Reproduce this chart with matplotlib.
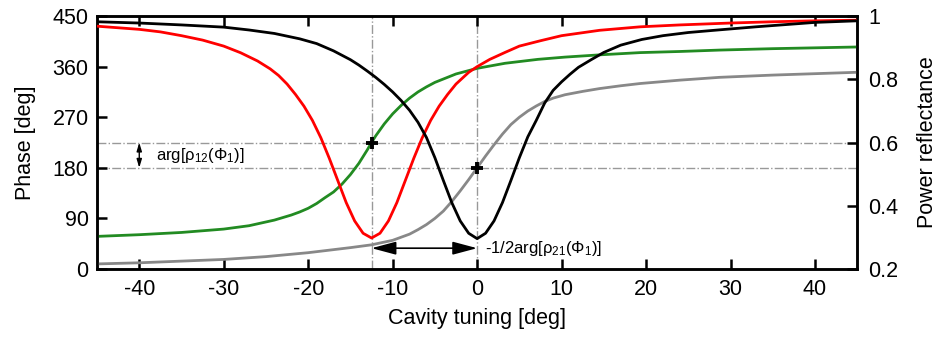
import numpy as np
import matplotlib.pyplot as plt

plt.rcParams['font.family'] = ['Liberation Sans', 'DejaVu Sans']
plt.rcParams['mathtext.fontset'] = 'custom'
plt.rcParams['mathtext.rm'] = 'Liberation Sans'
plt.rcParams['mathtext.it'] = 'Liberation Sans'
plt.rcParams['axes.unicode_minus'] = False

# values
# power reflectance, red dip (right axis)
red_x = [-45, -42.5, -40, -37.5, -35, -32.5, -30, -28, -26, -24.5, -23.5, -22.5, -21.5,
         -20.5, -19.5, -18.5, -17.5, -16.5, -15.5, -14.5, -13.5, -12.5, -11.5, -10.5,
         -9.5, -8.5, -7.5, -6.5, -5.5, -4.5, -3.5, -2.5, -1, 0, 1.5, 3.3, 5, 7.5, 10,
         14.5, 19.3, 24, 30, 35, 40, 45]
red_r = [0.968, 0.963, 0.958, 0.950, 0.938, 0.924, 0.905, 0.884, 0.858, 0.833, 0.812,
         0.785, 0.752, 0.715, 0.670, 0.615, 0.550, 0.480, 0.410, 0.352, 0.313, 0.298,
         0.313, 0.352, 0.410, 0.480, 0.550, 0.615, 0.670, 0.715, 0.752, 0.785, 0.822,
         0.840, 0.863, 0.885, 0.905, 0.922, 0.938, 0.955, 0.966, 0.972, 0.978, 0.982,
         0.985, 0.987]

# power reflectance, black dip (right axis)
blk_x = [-45, -40, -35, -30, -27, -24, -21, -19, -17, -15, -14, -13, -12, -11, -10, -9,
         -8, -7, -6, -5, -4, -3, -2, -1, 0, 1, 2, 3, 4, 5, 6, 7, 8, 9, 10, 11, 12, 13.5,
         15, 17, 19.5, 22, 25, 28.5, 33, 40, 45]
blk_r = [0.982, 0.978, 0.972, 0.965, 0.956, 0.945, 0.928, 0.913, 0.890, 0.862, 0.845,
         0.826, 0.806, 0.784, 0.760, 0.733, 0.702, 0.664, 0.616, 0.552, 0.480, 0.410,
         0.352, 0.313, 0.296, 0.313, 0.352, 0.410, 0.480, 0.552, 0.618, 0.670, 0.725,
         0.765, 0.792, 0.816, 0.838, 0.862, 0.885, 0.908, 0.926, 0.938, 0.948, 0.956,
         0.966, 0.980, 0.985]

# phase, green (left axis)
grn_x = [-45, -40, -35, -30, -27, -24, -22, -21, -20, -19, -18, -17, -16, -15, -14, -13,
         -12.5, -12, -11, -10, -9, -8, -7, -6, -5, -4, -2.5, 0, 3.3, 7.2, 10.4, 14.5,
         19.3, 24, 28.7, 35, 45]
grn_p = [58, 61, 65, 71, 77, 87, 96, 101.5, 108, 116.5, 127, 137, 151, 168, 188, 212,
         225, 237, 258, 276, 291, 304, 315, 324, 332, 338, 347, 357, 366, 373, 377, 381,
         385, 387, 389.5, 392, 395]

# phase, gray (left axis)
gry_x = [-45, -40, -35, -30, -25, -20, -15, -12.5, -10, -9, -8, -7, -6, -5, -4, -3, -2,
         -1, 0, 1, 2, 3, 4, 5, 6, 7, 8, 9, 10.4, 12.5, 14.5, 17, 19.3, 24, 28.7, 35, 45]
gry_p = [9, 11, 14, 17, 22, 29, 38, 43, 51, 56.5, 62, 70, 79, 90, 103, 120, 139, 159,
         180, 201, 221, 240, 257, 270, 281, 290, 298, 304, 310, 316, 321, 326, 330, 336,
         341, 345, 350]

x_ticks = [-40, -30, -20, -10, 0, 10, 20, 30, 40]
phase_ticks = [0, 90, 180, 270, 360, 450]
refl_ticks = [0.2, 0.4, 0.6, 0.8, 1.0]
refl_labels = ['0.2', '0.4', '0.6', '0.8', '1']

guide_x = [-12.5, 0]
guide_p = [225, 180]

fig = plt.figure(figsize=(9.42, 3.42), dpi=100)
ax = fig.add_axes([0.103, 0.2135, 0.807, 0.7395])
ax2 = ax.twinx()

for gx in guide_x:
    ax.axvline(gx, color='#999999', lw=1, ls='-.', zorder=1)
for gp in guide_p:
    ax.axhline(gp, color='#999999', lw=1, ls='-.', zorder=1)

ax.plot(gry_x, gry_p, color='#888888', lw=2, zorder=3)
ax.plot(grn_x, grn_p, color='#228b22', lw=2, zorder=3)
ax2.plot(red_x, red_r, color='red', lw=2, zorder=3)
ax2.plot(blk_x, blk_r, color='black', lw=2, zorder=3)
ax2.plot(guide_x, np.array(guide_p) / 450 * 0.8 + 0.2, ls='none', marker='+',
         color='black', ms=8, mew=2.8, zorder=5)

ax.set_xlim(-45, 45)
ax.set_ylim(0, 450)
ax2.set_ylim(0.2, 1.0)
ax.set_xticks(x_ticks)
ax.set_yticks(phase_ticks)
ax2.set_yticks(refl_ticks)
ax2.set_yticklabels(refl_labels)

fs = 15.5
ax.tick_params(axis='x', direction='in', top=True, length=7, width=1.8, labelsize=fs, pad=7)
ax.tick_params(axis='y', direction='in', right=False, length=7, width=1.8, labelsize=fs, pad=6)
ax2.tick_params(axis='y', direction='in', length=7, width=1.8, labelsize=fs, pad=8)
for a in (ax, ax2):
    for s in a.spines.values():
        s.set_linewidth(1.8)

ax.set_xlabel('Cavity tuning [deg]', fontsize=fs, labelpad=6)
ax.set_ylabel('Phase [deg]', fontsize=fs, labelpad=12)
ax2.set_ylabel('Power reflectance', fontsize=fs, labelpad=13)

# annotations
ax.annotate('', xy=(-40, 180), xytext=(-40, 225),
            arrowprops=dict(arrowstyle='<|-|>,head_length=0.5,head_width=0.15',
                            color='black', lw=1, shrinkA=0, shrinkB=0))
ax.text(-38, 202, r'arg[ρ$_{12}$(Φ$_1$)]', fontsize=12, va='center', ha='left')

ax.annotate('', xy=(0, 37), xytext=(-12.5, 37),
            arrowprops=dict(arrowstyle='<|-|>,head_length=1.5,head_width=0.4',
                            color='black', lw=1.2, shrinkA=0, shrinkB=0))
ax.text(0.9, 37, r'-1/2arg[ρ$_{21}$(Φ$_1$)]', fontsize=12, va='center', ha='left')

fig.savefig('out.png', dpi=100)
